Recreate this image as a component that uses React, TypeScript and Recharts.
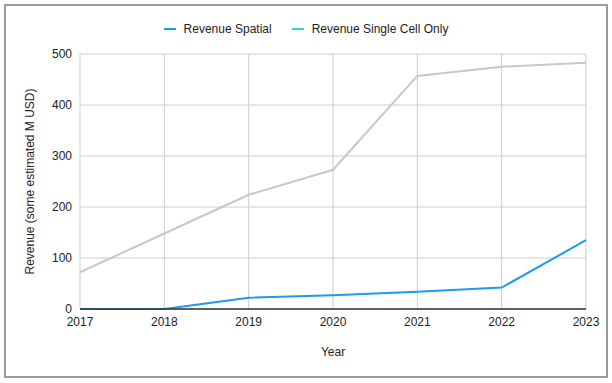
import React from 'react';
import { LineChart, Line, XAxis, YAxis, CartesianGrid } from 'recharts';

const years = ['2017', '2018', '2019', '2020', '2021', '2022', '2023'];
const revenueSpatial = [0, 0, 22, 27, 34, 42, 135];
const revenueSingleCell = [72, 148, 224, 273, 457, 475, 483];
const yTicks = [0, 100, 200, 300, 400, 500];

const data = years.map((y, i) => ({
  year: y,
  spatial: revenueSpatial[i],
  singleCell: revenueSingleCell[i],
}));

const FONT = '"Liberation Sans", Arial, Helvetica, sans-serif';

const legendItems = [
  { label: 'Revenue Spatial', color: '#1a9cf0' },
  { label: 'Revenue Single Cell Only', color: '#2fd6c6' },
];

function ChartLegend() {
  return (
    <div
      style={{
        position: 'absolute', left: 0, top: 22, width: 612,
        display: 'flex', justifyContent: 'center',
        fontFamily: FONT, fontSize: 12, color: '#222', lineHeight: '14px',
      }}
    >
      {legendItems.map((it) => (
        <div key={it.label} style={{ display: 'flex', alignItems: 'center', margin: '0 10px' }}>
          <span style={{ display: 'inline-block', width: 12, height: 2, background: it.color, marginRight: 8 }} />
          <span>{it.label}</span>
        </div>
      ))}
    </div>
  );
}

export default function App() {
  return (
    <div style={{ position: 'fixed', left: 0, top: 0, width: 612, height: 383, background: '#fff' }}>
      <div
        style={{
          position: 'absolute', left: 4, top: 4, width: 600, height: 370,
          border: '2px solid #9a9a9a', boxSizing: 'content-box',
        }}
      />
      <ChartLegend />
      <div style={{ position: 'absolute', left: 0, top: 0 }}>
        <LineChart
          width={612}
          height={383}
          data={data}
          margin={{ top: 54, right: 26, bottom: 24, left: 25 }}
          style={{ fontFamily: FONT }}
        >
          <CartesianGrid stroke="#cccccc" strokeWidth={1} />
          <XAxis
            dataKey="year"
            height={50}
            tickLine={false}
            axisLine={{ stroke: '#333', strokeWidth: 1.5 }}
            tick={{ fill: '#222', fontSize: 12 }}
            interval={0}
            label={{ value: 'Year', position: 'insideBottom', offset: 3, fill: '#222', fontSize: 12 }}
          />
          <YAxis
            width={55}
            domain={[0, 500]}
            ticks={yTicks}
            tickLine={false}
            axisLine={false}
            tick={{ fill: '#222', fontSize: 12 }}
            label={{
              value: 'Revenue (some estimated M USD)',
              angle: -90,
              position: 'insideLeft',
              offset: 5,
              fill: '#222',
              fontSize: 12,
              style: { textAnchor: 'middle' },
            }}
          />
          <Line
            type="linear"
            dataKey="singleCell"
            stroke="#c8c8c8"
            strokeWidth={2}
            dot={false}
            isAnimationActive={false}
          />
          <Line
            type="linear"
            dataKey="spatial"
            stroke="#1a9cf0"
            strokeWidth={2}
            dot={false}
            isAnimationActive={false}
          />
        </LineChart>
      </div>
    </div>
  );
}
